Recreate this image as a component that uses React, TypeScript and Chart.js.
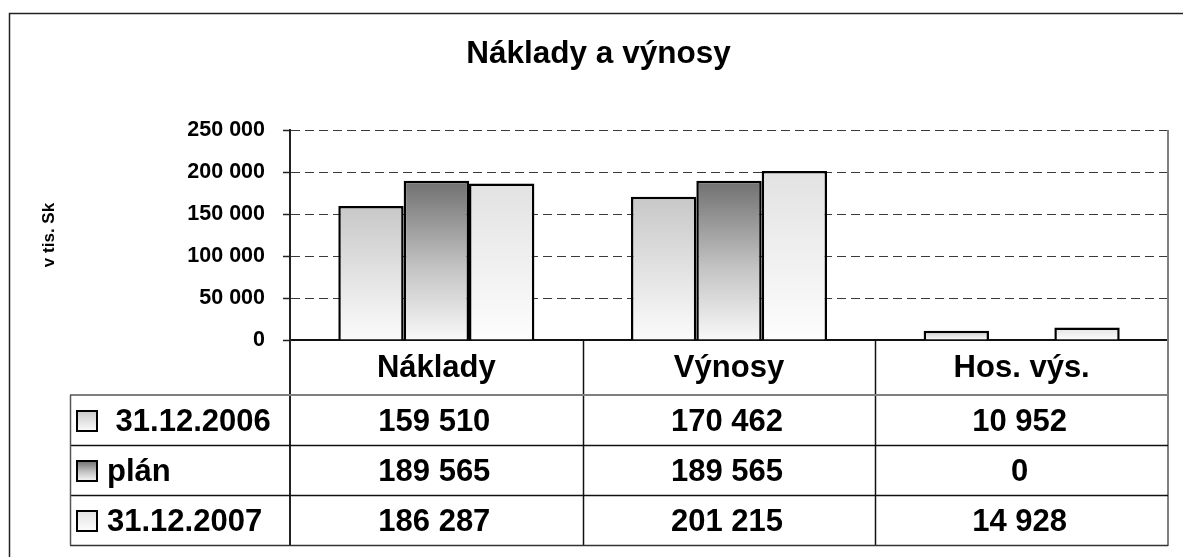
import React, { useEffect, useRef } from 'react';
import { Chart, registerables } from 'chart.js';

Chart.register(...registerables);

const chartTitle = 'Náklady a výnosy';
const yAxisTitle = 'v tis. Sk';
const categories = ['Náklady', 'Výnosy', 'Hos. výs.'];
const seriesLabels = [' 31.12.2006', 'plán', '31.12.2007'];
const values2006 = [159510, 170462, 10952];
const valuesPlan = [189565, 189565, 0];
const values2007 = [186287, 201215, 14928];
const yTicks = [0, 50000, 100000, 150000, 200000, 250000];

const FONT = "'Liberation Sans', Arial, sans-serif";
const gradientStops: [number, string][][] = [
  [[0, '#c8c8c8'], [1, '#fbfbfb']],
  [[0, '#707070'], [0.55, '#c4c4c4'], [1, '#f8f8f8']],
  [[0, '#e2e2e2'], [1, '#fdfdfd']],
];

const fmt = (n: number) => String(n).replace(/\B(?=(\d{3})+(?!\d))/g, ' ');

const makeBg = (si: number) => (c: any) => {
  const stops = gradientStops[si];
  const chart = c.chart;
  const y = chart.scales && chart.scales.y;
  if (c.type !== 'data' || !y || !chart.chartArea) return stops[0][1];
  const top = y.getPixelForValue(c.raw);
  const base = y.getPixelForValue(0);
  if (!(base - top > 1)) return stops[stops.length - 1][1];
  const g = chart.ctx.createLinearGradient(0, top, 0, base);
  stops.forEach(([o, col]) => g.addColorStop(o, col));
  return g;
};

const tablePlugin = {
  id: 'dataTable',
  beforeDraw(chart: any) {
    const ctx = chart.ctx;
    ctx.save();
    ctx.strokeStyle = '#222';
    ctx.lineWidth = 1.5;
    ctx.beginPath();
    ctx.moveTo(9.5, chart.height);
    ctx.lineTo(9.5, 13.5);
    ctx.lineTo(chart.width, 13.5);
    ctx.stroke();
    ctx.restore();
  },
  afterDraw(chart: any) {
    const { ctx, chartArea } = chart;
    const xs = chart.scales.x;
    const n = categories.length;
    const cw = (chartArea.right - chartArea.left) / n;
    const headerBottom = xs.bottom;
    const rowH = 50;
    const datasets = chart.data.datasets;
    const tableBottom = headerBottom + rowH * datasets.length;
    const legendLeft = 70;

    const line = (x1: number, y1: number, x2: number, y2: number, color: string, w: number) => {
      ctx.save();
      ctx.strokeStyle = color;
      ctx.lineWidth = w;
      ctx.beginPath();
      ctx.moveTo(x1, y1);
      ctx.lineTo(x2, y2);
      ctx.stroke();
      ctx.restore();
    };

    line(chartArea.left, chartArea.bottom, chartArea.left, tableBottom, '#222', 2);
    for (let i = 1; i < n; i++) {
      const x = Math.round(chartArea.left + cw * i) + 0.5;
      line(x, chartArea.bottom, x, tableBottom, '#111', 1.5);
    }
    line(chartArea.right, chartArea.top, chartArea.right, tableBottom + 1, '#7f7f7f', 2);
    line(legendLeft, headerBottom, chartArea.right, headerBottom, '#7f7f7f', 2);
    for (let r = 0; r < datasets.length; r++) {
      const y = Math.round(headerBottom + rowH * (r + 1)) + 0.5;
      line(legendLeft, y, chartArea.right, y, r === datasets.length - 1 ? '#333' : '#111', 1.5);
    }
    line(legendLeft + 0.5, headerBottom, legendLeft + 0.5, tableBottom, '#555', 1.5);

    ctx.save();
    ctx.fillStyle = '#000';
    ctx.font = `bold 31px ${FONT}`;
    ctx.textBaseline = 'middle';
    datasets.forEach((ds: any, r: number) => {
      const cy = headerBottom + rowH * r + rowH / 2 + 2;
      ctx.textAlign = 'center';
      ds.data.forEach((v: number, i: number) => {
        ctx.fillText(fmt(v), xs.getPixelForValue(i) - 2, cy);
      });
      // legend key
      const bx = legendLeft + 7;
      const by = cy - 11;
      const stops = gradientStops[r];
      const g = ctx.createLinearGradient(0, by, 0, by + 20);
      stops.forEach(([o, col]) => g.addColorStop(o, col));
      ctx.fillStyle = g;
      ctx.fillRect(bx, by, 20, 20);
      ctx.strokeStyle = '#000';
      ctx.lineWidth = 2;
      ctx.strokeRect(bx, by, 20, 20);
      ctx.fillStyle = '#000';
      ctx.textAlign = 'left';
      ctx.fillText(ds.label, legendLeft + 37, cy);
    });
    ctx.restore();
  },
};

export default function App() {
  const ref = useRef<HTMLCanvasElement>(null);
  useEffect(() => {
    const seriesValues = [values2006, valuesPlan, values2007];
    const chart = new Chart(ref.current as HTMLCanvasElement, {
      type: 'bar',
      data: {
        labels: categories,
        datasets: seriesValues.map((vals, si) => ({
          label: seriesLabels[si],
          data: vals,
          backgroundColor: makeBg(si),
          borderColor: '#000',
          borderWidth: 2.5,
          categoryPercentage: 0.67,
          barPercentage: 1,
        })),
      },
      options: {
        animation: false,
        responsive: true,
        maintainAspectRatio: false,
        layout: { padding: { left: 29, right: 15, top: 13, bottom: 162 } },
        plugins: {
          legend: { display: false },
          tooltip: { enabled: false },
          title: {
            display: true,
            text: chartTitle,
            color: '#000',
            font: { family: FONT, size: 31.5, weight: 'bold' },
            padding: { top: 22, bottom: 57.2 },
          },
        },
        scales: {
          x: {
            grid: { display: false, drawTicks: false },
            border: { display: true, color: '#111', width: 2 },
            ticks: {
              color: '#000',
              padding: 10,
              font: { family: FONT, size: 31, weight: 'bold' },
            },
            afterFit: (s: any) => { s.height = 55; },
          },
          y: {
            min: yTicks[0],
            max: yTicks[yTicks.length - 1],
            afterBuildTicks: (s: any) => { s.ticks = yTicks.map((v) => ({ value: v })); },
            grid: {
              color: '#3a3a3a',
              lineWidth: 1,
              tickLength: 7,
              tickColor: '#222',
              tickWidth: 1.5,
              tickBorderDash: [],
            },
            border: { display: true, color: '#222', width: 2, dash: [9, 5] },
            ticks: {
              color: '#000',
              padding: 18,
              font: { family: FONT, size: 21.5, weight: 'bold' },
              callback: (v: any) => fmt(Number(v)),
            },
            title: {
              display: true,
              text: yAxisTitle,
              color: '#000',
              font: { family: FONT, size: 17, weight: 'bold' },
              padding: { top: 10, bottom: 0 },
            },
            afterFit: (s: any) => { s.width = 261; },
          },
        },
      },
      plugins: [tablePlugin],
    } as any);
    return () => chart.destroy();
  }, []);
  return (
    <div style={{ position: 'fixed', left: 0, top: 0, width: 1183, height: 557, background: '#fff' }}>
      <canvas ref={ref} />
    </div>
  );
}
